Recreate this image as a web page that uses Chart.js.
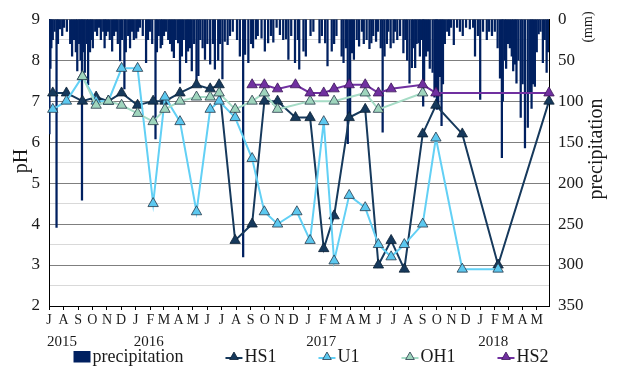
<!DOCTYPE html>
<html>
<head>
<meta charset="utf-8">
<script src="https://cdn.jsdelivr.net/npm/chart.js@4.4.0/dist/chart.umd.min.js"></script>
<style>
  html, body { margin: 0; padding: 0; background: #fff; }
  canvas { display: block; }
</style>
</head>
<body>
<canvas id="chart" width="619" height="367"></canvas>
<script>
// ---- data -------------------------------------------------------------
// Record starts 1 July 2015; the date axis ends at the last sampling day.
const recordStart = '2015-07-01';
const recordEnd = '2018-05-27';

// Month tick letters, July 2015 .. May 2018
const monthLetters = ['J','A','S','O','N','D',
  'J','F','M','A','M','J','J','A','S','O','N','D',
  'J','F','M','A','M','J','J','A','S','O','N','D',
  'J','F','M','A','M'];
const yearLabels = ['2015', '2016', '2017', '2018'];
const yearStarts = ['2015-07-01', '2016-01-01', '2017-01-01', '2018-01-01'];

// Daily precipitation: [day since 1 July 2015, mm]
const precipitation = [
  [1,140],[3,60],[5,35],[8,25],[12,15],[16,254],[19,30],[23,12],[28,20],[32,10],
  [38,15],[45,30],[49,45],[53,25],[57,40],[60,63],[64,30],[67,50],[70,221],[73,40],
  [76,65],[80,30],[83,80],[87,40],[90,25],[93,35],[98,15],[102,20],[106,10],[110,25],
  [115,15],[118,35],[121,20],[125,15],[129,25],[134,39],[138,20],[142,15],[146,30],[151,51],
  [155,25],[160,85],[163,40],[168,20],[172,35],[176,15],[180,25],[185,23],[189,15],[193,10],
  [199,20],[206,53],[210,25],[214,15],[219,30],[226,146],[229,40],[233,20],[237,35],[240,31],
  [244,20],[248,15],[253,25],[257,30],[261,39],[265,47],[269,25],[274,29],[278,78],[282,45],
  [286,25],[291,53],[295,39],[299,35],[303,63],[308,30],[313,75],[317,69],[321,25],[326,35],
  [331,49],[336,30],[342,55],[348,30],[352,61],[359,50],[363,30],[368,73],[373,27],[379,31],
  [384,20],[390,15],[399,25],[405,45],[412,290],[416,43],[423,53],[429,30],[433,35],[439,24],
  [443,20],[451,23],[458,39],[465,29],[471,20],[476,28],[483,10],[490,19],[497,25],[503,24],
  [508,49],[514,20],[522,53],[528,25],[531,61],[540,39],[545,45],[555,20],[561,15],[574,29],
  [579,20],[586,29],[591,57],[600,39],[605,30],[610,20],[621,45],[625,53],[630,35],[634,152],
  [639,120],[643,41],[647,49],[653,25],[658,33],[664,15],[668,30],[674,25],[680,36],[684,29],
  [688,20],[694,27],[698,15],[704,35],[708,138],[712,45],[717,30],[720,15],[725,35],[731,29],
  [734,15],[739,25],[745,20],[752,41],[756,25],[760,50],[765,78],[770,59],[773,35],[777,59],
  [780,30],[784,29],[787,45],[791,25],[794,106],[796,75],[800,45],[804,39],[808,60],[814,65],
  [818,95],[821,85],[823,110],[826,108],[830,70],[833,130],[836,79],[840,30],[845,15],[849,20],
  [853,10],[859,31],[866,10],[872,15],[878,20],[885,10],[893,12],[900,10],[904,45],[910,20],
  [915,98],[921,15],[929,25],[934,15],[940,20],[946,15],[952,35],[957,72],[961,169],[963,100],
  [967,50],[970,60],[974,30],[978,35],[982,45],[985,63],[989,55],[992,78],[996,50],[1001,120],
  [1005,79],[1010,157],[1016,132],[1021,90],[1024,109],[1027,79],[1031,82],[1035,40],[1039,18],[1043,15],
  [1048,53],[1052,25],[1056,65],[1059,40]
];

// pH samples
const hs1Dates = ['2015-07-09','2015-08-07','2015-09-10','2015-10-09','2015-11-04','2015-12-02',
  '2016-01-05','2016-02-07','2016-03-03','2016-04-04','2016-05-09','2016-06-07','2016-06-26',
  '2016-07-30','2016-09-04','2016-09-30','2016-10-28','2016-12-05','2017-01-05','2017-02-03',
  '2017-02-25','2017-03-29','2017-05-02','2017-05-30','2017-06-26','2017-07-24','2017-09-01',
  '2017-09-29','2017-11-24','2018-02-08','2018-05-27'];
const hs1pH = [7.2,7.2,7.0,7.1,7.0,7.2,6.9,7.0,7.0,7.2,7.4,7.3,7.4,3.6,4.0,7.0,7.0,6.6,6.6,3.4,
  4.2,6.6,6.8,3.0,3.6,2.9,6.2,6.9,6.2,3.0,7.0];

const u1Dates = ['2015-07-09','2015-08-07','2015-09-10','2015-10-09','2015-11-04','2015-12-02',
  '2016-01-05','2016-02-07','2016-03-03','2016-04-04','2016-05-09','2016-06-07','2016-06-26',
  '2016-07-30','2016-09-04','2016-09-30','2016-10-28','2016-12-08','2017-01-05','2017-02-03',
  '2017-02-25','2017-03-29','2017-05-02','2017-05-30','2017-06-26','2017-07-24','2017-09-01',
  '2017-09-29','2017-11-24','2018-02-08'];
const u1pH = [6.8,7.0,7.6,7.0,7.0,7.8,7.8,4.5,7.1,6.5,4.3,6.8,7.0,6.6,5.6,4.3,4.0,4.3,3.6,6.5,
  3.1,4.7,4.4,3.5,3.2,3.5,4.0,6.1,2.9,2.9];

const oh1Dates = ['2015-09-10','2015-10-09','2015-11-04','2015-12-02','2016-01-05','2016-02-07',
  '2016-03-03','2016-04-04','2016-05-09','2016-06-07','2016-06-26','2016-07-30','2016-09-04',
  '2016-09-30','2016-10-28','2017-01-05','2017-02-25','2017-05-02','2017-05-30','2017-09-01'];
const oh1pH = [7.6,6.9,7.0,6.9,6.7,6.5,6.8,7.0,7.1,7.1,7.2,6.8,7.0,7.2,6.8,7.0,7.0,7.2,6.8,7.2];

const hs2Dates = ['2016-09-04','2016-09-30','2016-10-28','2016-12-05','2017-01-05','2017-02-03',
  '2017-02-25','2017-03-29','2017-05-02','2017-05-30','2017-06-26','2017-09-01','2017-09-29',
  '2018-05-27'];
const hs2pH = [7.4,7.4,7.3,7.4,7.2,7.2,7.3,7.4,7.4,7.2,7.3,7.4,7.2,7.2];

// ---- helpers ----------------------------------------------------------
const t0 = Date.parse(recordStart + 'T00:00:00Z');
const dayOf = s => Math.round((Date.parse(s + 'T00:00:00Z') - t0) / 864e5);
const monthStarts = monthLetters.map((_, i) => Math.round((Date.UTC(2015, 6 + i, 1) - t0) / 864e5));
const series = (dates, vals) => dates.map((d, i) => ({ x: dayOf(d), y: vals[i] }));

const SERIF = '"Liberation Serif", "Times New Roman", serif';
const INK = '#1a1a1a';

function lineSet(label, dates, vals, line, fill, edge, order) {
  return {
    type: 'line', label, data: series(dates, vals), yAxisID: 'y', order,
    borderColor: line, borderWidth: 2, tension: 0, fill: false, clip: false,
    pointStyle: 'triangle', pointRadius: 6, pointHoverRadius: 6,
    pointBackgroundColor: fill, pointBorderColor: edge, pointBorderWidth: 0.8
  };
}

// ---- decorations: year row, axis titles, legend ------------------------
const decorations = {
  id: 'decorations',
  afterDraw(chart) {
    const { ctx, chartArea: a, scales: { x } } = chart;
    ctx.save();
    ctx.fillStyle = INK;

    ctx.font = '15px ' + SERIF;
    ctx.textAlign = 'left';
    ctx.textBaseline = 'alphabetic';
    yearLabels.forEach((t, i) => ctx.fillText(t, x.getPixelForValue(dayOf(yearStarts[i])) - 2, 346));

    const vText = (t, cx, cy, font) => {
      ctx.save();
      ctx.translate(cx, cy);
      ctx.rotate(-Math.PI / 2);
      ctx.font = font;
      ctx.textAlign = 'center';
      ctx.textBaseline = 'middle';
      ctx.fillText(t, 0, 0);
      ctx.restore();
    };
    vText('pH', a.left - 27, 161, '20px ' + SERIF);
    vText('precipitation', a.right + 48, 149, '20px ' + SERIF);
    vText('(mm)', a.right + 39, 27, '14px ' + SERIF);

    // legend row
    ctx.font = '18px ' + SERIF;
    const items = chart.data.datasets.map(ds => ({ ds, w: 17 + 2 + ctx.measureText(ds.label).width }));
    const gap = 42;
    const total = items.reduce((s, it) => s + it.w, 0) + gap * (items.length - 1);
    let px = 311 - total / 2;
    const cy = 357;
    items.forEach(({ ds, w }) => {
      if (ds.type === 'bar') {
        ctx.fillStyle = ds.backgroundColor;
        ctx.fillRect(px, cy - 6, 17, 11.5);
      } else {
        ctx.strokeStyle = ds.borderColor;
        ctx.lineWidth = 2;
        ctx.beginPath();
        ctx.moveTo(px, cy + 1);
        ctx.lineTo(px + 17, cy + 1);
        ctx.stroke();
        ctx.fillStyle = ds.pointBackgroundColor;
        ctx.strokeStyle = ds.pointBorderColor;
        ctx.lineWidth = 0.8;
        Chart.helpers.drawPoint(ctx, { pointStyle: 'triangle', radius: 5, borderWidth: 0.8, rotation: 0 }, px + 8.5, cy);
      }
      ctx.fillStyle = INK;
      ctx.textAlign = 'left';
      ctx.textBaseline = 'alphabetic';
      ctx.fillText(ds.label, px + 19, 362);
      px += w + gap;
    });
    ctx.restore();
  }
};

// ---- chart ------------------------------------------------------------
new Chart(document.getElementById('chart'), {
  type: 'line',
  data: {
    datasets: [
      {
        type: 'bar', label: 'precipitation', yAxisID: 'yR', order: 10,
        data: precipitation.map(([d, mm]) => ({ x: d, y: mm })),
        backgroundColor: '#002060', borderWidth: 0, barThickness: 1.6
      },
      lineSet('HS1', hs1Dates, hs1pH, '#16395c', '#16395c', '#0b1f33', 4),
      lineSet('U1', u1Dates, u1pH, '#62d0f5', '#5cc8ef', '#27394a', 3),
      lineSet('OH1', oh1Dates, oh1pH, '#a6dcc6', '#9fd5bd', '#27394a', 2),
      lineSet('HS2', hs2Dates, hs2pH, '#7030a0', '#7030a0', '#3c1758', 1)
    ]
  },
  options: {
    responsive: false,
    devicePixelRatio: 1,
    animation: false,
    events: [],
    layout: { padding: { top: 18, left: 0, right: 0, bottom: 0 } },
    plugins: { legend: { display: false }, tooltip: { enabled: false } },
    scales: {
      x: {
        type: 'linear', offset: false,
        min: 0, max: dayOf(recordEnd),
        afterBuildTicks: s => { s.ticks = monthStarts.map(v => ({ value: v })); },
        afterFit: s => { s.height = 61; },
        ticks: {
          autoSkip: false, maxRotation: 0, minRotation: 0, padding: 2,
          color: INK, font: { family: SERIF, size: 14 },
          callback: (v, i) => monthLetters[i]
        },
        grid: { offset: false, drawOnChartArea: false, drawTicks: true, tickLength: 4, color: '#000' },
        border: { color: '#000', width: 1 }
      },
      y: {
        position: 'left', min: 2, max: 9,
        afterFit: s => { s.width = 49; },
        ticks: {
          stepSize: 0.5, autoSkip: false, padding: 9,
          color: INK, font: { family: SERIF, size: 17 },
          callback: v => (Number.isInteger(v) ? v : '')
        },
        grid: {
          drawTicks: false, lineWidth: 1,
          color: c => (c.tick.value === 2 ? '#000' : Number.isInteger(c.tick.value) ? '#7f7f7f' : '#d9d9d9')
        },
        border: { color: '#000', width: 1 }
      },
      yR: {
        position: 'right', reverse: true, min: 0, max: 350,
        afterFit: s => { s.width = 70; },
        ticks: { stepSize: 50, padding: 9, color: INK, font: { family: SERIF, size: 17 } },
        grid: { drawOnChartArea: false, drawTicks: false },
        border: { color: '#000', width: 1 }
      }
    }
  },
  plugins: [decorations]
});
</script>
</body>
</html>
